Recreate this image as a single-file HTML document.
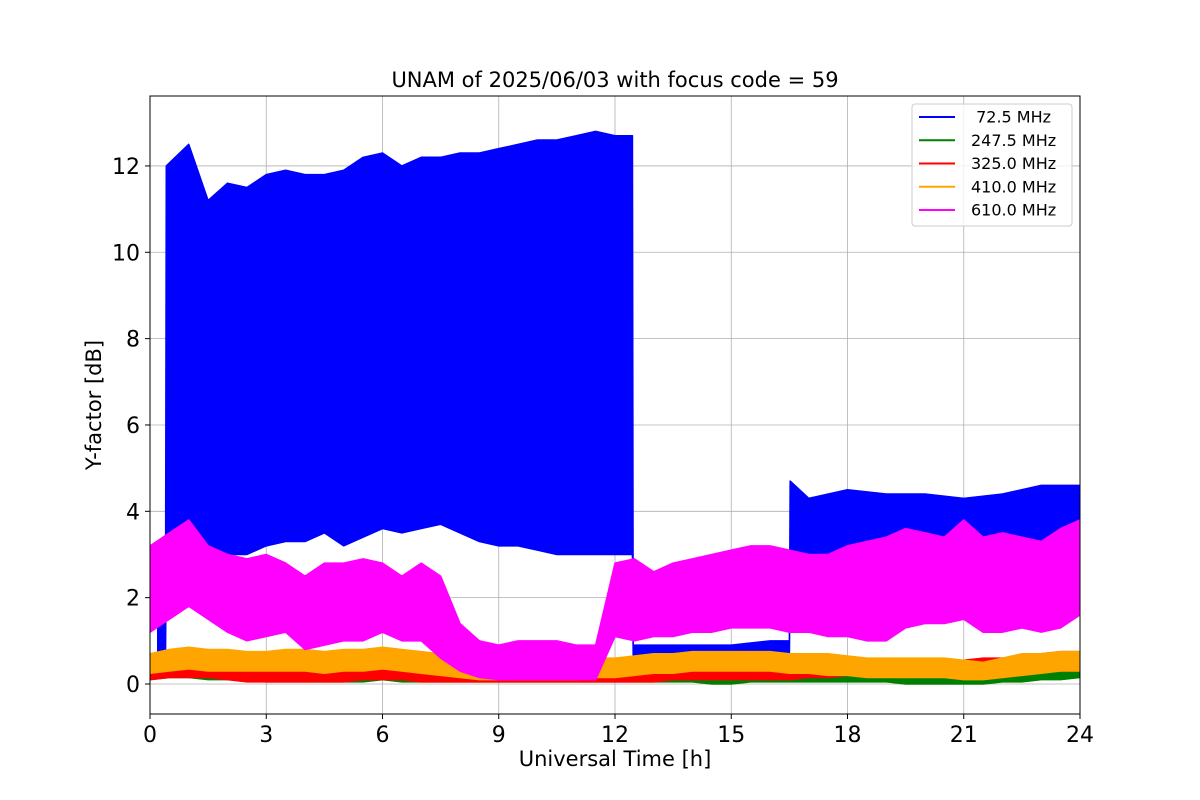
<!DOCTYPE html>
<html><head><meta charset="utf-8"><style>
html,body{margin:0;padding:0;background:#fff;}
svg{display:block;font-family:"DejaVu Sans","Liberation Sans",sans-serif;}
</style></head><body>
<svg id="chart" width="1200" height="800"></svg>
<script>
const T = [0,0.5,1,1.5,2,2.5,3,3.5,4,4.5,5,5.5,6,6.5,7,7.5,8,8.5,9,9.5,10,10.5,11,11.5,12,12.5,13,13.5,14,14.5,15,15.5,16,16.5,17,17.5,18,18.5,19,19.5,20,20.5,21,21.5,22,22.5,23,23.5,24];
const blueT  = [0.2,0.4,0.42,1,1.5,2,2.5,3,3.5,4,4.5,5,5.5,6,6.5,7,7.5,8,8.5,9,9.5,10,10.5,11,11.5,12,12.45,12.47,13,14,15,16,16.5,16.52,17,18,19,20,21,22,23,24];
const blueHi = [1.5,1.5,12,12.5,11.2,11.6,11.5,11.8,11.9,11.8,11.8,11.9,12.2,12.3,12,12.2,12.2,12.3,12.3,12.4,12.5,12.6,12.6,12.7,12.8,12.7,12.7,0.9,0.9,0.9,0.9,1,1,4.7,4.3,4.5,4.4,4.4,4.3,4.4,4.6,4.6];
const blueLo = [0.6,0.6,3,3.5,3,3,3,3.2,3.3,3.3,3.5,3.2,3.4,3.6,3.5,3.6,3.7,3.5,3.3,3.2,3.2,3.1,3,3,3,3,3,0.5,0.5,0.5,0.5,0.6,0.6,2.5,2.6,2.6,2.4,2.2,2.2,2.5,2.6,2.7];
const magHi = [3.2,3.5,3.8,3.2,3,2.9,3,2.8,2.5,2.8,2.8,2.9,2.8,2.5,2.8,2.5,1.4,1,0.9,1,1,1,0.9,0.9,2.8,2.9,2.6,2.8,2.9,3,3.1,3.2,3.2,3.1,3,3,3.2,3.3,3.4,3.6,3.5,3.4,3.8,3.4,3.5,3.4,3.3,3.6,3.8];
const magLo = [1.2,1.5,1.8,1.5,1.2,1,1.1,1.2,0.8,0.9,1,1,1.2,1,1,0.6,0.3,0.15,0.1,0.1,0.1,0.1,0.1,0.1,1.1,1,1.1,1.1,1.2,1.2,1.3,1.3,1.3,1.2,1.2,1.1,1.1,1,1,1.3,1.4,1.4,1.5,1.2,1.2,1.3,1.2,1.3,1.6];
const orgHi = [0.7,0.8,0.85,0.8,0.8,0.75,0.75,0.8,0.8,0.75,0.8,0.8,0.85,0.8,0.75,0.7,0.65,0.6,0.55,0.55,0.6,0.6,0.6,0.6,0.6,0.65,0.7,0.7,0.75,0.75,0.75,0.75,0.75,0.7,0.7,0.7,0.65,0.6,0.6,0.6,0.6,0.6,0.55,0.5,0.6,0.7,0.7,0.75,0.75];
const orgLo = [0.25,0.3,0.35,0.3,0.3,0.3,0.3,0.3,0.3,0.25,0.3,0.3,0.35,0.3,0.25,0.2,0.15,0.1,0.1,0.1,0.1,0.1,0.1,0.15,0.15,0.2,0.25,0.25,0.3,0.3,0.3,0.3,0.3,0.25,0.25,0.2,0.2,0.15,0.15,0.15,0.15,0.15,0.1,0.1,0.15,0.2,0.25,0.3,0.3];
const redHi = [0.4,0.5,0.55,0.5,0.45,0.4,0.4,0.35,0.4,0.4,0.4,0.45,0.5,0.45,0.4,0.35,0.3,0.3,0.3,0.3,0.3,0.3,0.3,0.35,0.35,0.35,0.35,0.4,0.4,0.4,0.4,0.4,0.4,0.45,0.45,0.5,0.5,0.5,0.5,0.5,0.55,0.55,0.55,0.6,0.6,0.65,0.7,0.75,0.75];
const redLo = [0.1,0.15,0.15,0.15,0.1,0.05,0.05,0.05,0.05,0.05,0.05,0.1,0.1,0.1,0.05,0.05,0.05,0.05,0.05,0.05,0.05,0.05,0.05,0.05,0.05,0.05,0.05,0.1,0.1,0.1,0.1,0.1,0.1,0.1,0.15,0.15,0.2,0.2,0.2,0.2,0.2,0.2,0.2,0.25,0.25,0.3,0.3,0.3,0.3];
const grnHi = [0.3,0.5,0.55,0.5,0.45,0.4,0.35,0.35,0.35,0.35,0.35,0.35,0.4,0.35,0.3,0.3,0.25,0.2,0.2,0.2,0.2,0.2,0.2,0.2,0.25,0.3,0.3,0.3,0.3,0.3,0.3,0.3,0.35,0.35,0.35,0.35,0.3,0.3,0.3,0.3,0.3,0.3,0.3,0.3,0.3,0.3,0.35,0.4,0.4];
const grnLo = [0.1,0.15,0.15,0.1,0.1,0.1,0.05,0.05,0.05,0.05,0.05,0.05,0.1,0.05,0.05,0.05,0.05,0.05,0.05,0.05,0.05,0.05,0.05,0.05,0.05,0.05,0.05,0.05,0.05,0.0,0.0,0.05,0.05,0.05,0.05,0.05,0.05,0.05,0.05,0.0,0.0,0.0,0.0,0.0,0.05,0.05,0.1,0.1,0.15];
const xTicks = [0,3,6,9,12,15,18,21,24];
const yTicks = [0,2,4,6,8,10,12];
const legendLabels = [" 72.5 MHz","247.5 MHz","325.0 MHz","410.0 MHz","610.0 MHz"];
const legendColors = ["#0000ff","#008000","#ff0000","#ffa500","#ff00ff"];

const NS = "http://www.w3.org/2000/svg";
const svg = document.getElementById('chart');
const L=150,R=1080,TOP=96,BOT=714,YMIN=-0.695,YMAX=13.62;
const xs = v => L + (v/24)*(R-L);
const ys = v => BOT - (v-YMIN)/(YMAX-YMIN)*(BOT-TOP);
function mk(tag, attrs, parent){const e=document.createElementNS(NS,tag);for(const k in attrs)e.setAttribute(k,attrs[k]);(parent||svg).appendChild(e);return e;}

mk('rect',{x:0,y:0,width:1200,height:800,fill:'#fff'});
xTicks.forEach(v=>{const g=mk('line',{x1:xs(v),x2:xs(v),y1:TOP,y2:BOT,stroke:'#b0b0b0','stroke-width':0.8});

});
yTicks.forEach(v=>{const g=mk('line',{x1:L,x2:R,y1:ys(v),y2:ys(v),stroke:'#b0b0b0','stroke-width':0.8});

});

const clip=mk('clipPath',{id:'pc'});mk('rect',{x:L,y:TOP,width:R-L,height:BOT-TOP},clip);
function band(t,hi,lo,color,name){
  let pts=[];for(let i=0;i<t.length;i++)pts.push(xs(t[i])+','+ys(hi[i]));
  for(let i=t.length-1;i>=0;i--)pts.push(xs(t[i])+','+ys(lo[i]));
  const p=mk('polygon',{points:pts.join(' '),fill:color,stroke:color,'stroke-width':1.5,'stroke-linejoin':'round','clip-path':'url(#pc)'});
  
  
}
band(blueT,blueHi,blueLo,'#0000ff','series-72-5-mhz');
band(T,grnHi,grnLo,'#008000','series-247-5-mhz');
band(T,redHi,redLo,'#ff0000','series-325-0-mhz');
band(T,orgHi,orgLo,'#ffa500','series-410-0-mhz');
band(T,magHi,magLo,'#ff00ff','series-610-0-mhz');

const fr=mk('rect',{x:L,y:TOP,width:R-L,height:BOT-TOP,fill:'none',stroke:'#000','stroke-width':1});


xTicks.forEach(v=>{mk('line',{x1:xs(v),x2:xs(v),y1:BOT,y2:BOT+5,stroke:'#000'});
const t=mk('text',{x:xs(v),y:BOT+28,'font-size':22,'text-anchor':'middle'});t.textContent=v;

});
yTicks.forEach(v=>{mk('line',{x1:L-5,x2:L,y1:ys(v),y2:ys(v),stroke:'#000'});
const t=mk('text',{x:L-10,y:ys(v)+8,'font-size':22,'text-anchor':'end'});t.textContent=v;

});

let t=mk('text',{x:615,y:87,'font-size':21,'text-anchor':'middle'});t.textContent='UNAM of 2025/06/03 with focus code = 59';


t=mk('text',{x:615,y:766,'font-size':21,'text-anchor':'middle'});t.textContent='Universal Time [h]';


t=mk('text',{x:101,y:405,'font-size':21,'text-anchor':'middle',transform:'rotate(-90 101 405)'});t.textContent='Y-factor [dB]';



const lg=mk('g',{});


mk('rect',{x:912,y:104,width:160,height:122,rx:3,fill:'#fff','fill-opacity':0.8,stroke:'#cccccc'},lg);
legendLabels.forEach((lab,i)=>{
  const y=117+i*23.25;
  const e=mk('g',{},lg);
  
  
  mk('line',{x1:919,x2:955,y1:y,y2:y,stroke:legendColors[i],'stroke-width':2},e);
  const tx=mk('text',{x:971,y:y+5.5,'font-size':16},e);tx.textContent=lab;
  tx.style.whiteSpace='pre';
});
</script>
</body></html>
